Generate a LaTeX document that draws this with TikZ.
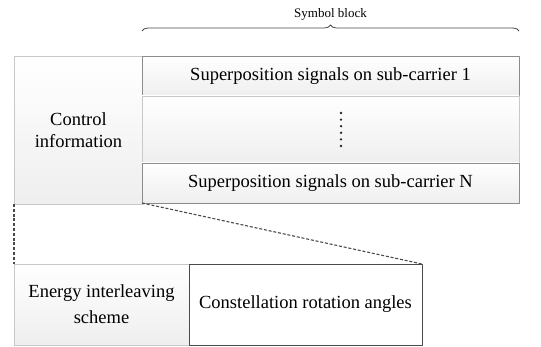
\documentclass[tikz,border=0pt]{standalone}
\usepackage{fontspec}
\setmainfont{Liberation Serif}
\usetikzlibrary{positioning,decorations.pathreplacing}
\definecolor{lightedge}{HTML}{C8C8C8}
\definecolor{midedge}{HTML}{8C8C8C}
\definecolor{darkedge}{HTML}{4A4A4A}
\tikzset{
  cell/.style={draw=lightedge, top color=white, bottom color=gray!13, inner sep=0pt, outer sep=0pt, align=center},
  rowbox/.style={cell, draw=midedge, minimum width=377pt, minimum height=40pt},
  zoomline/.style={darkedge, dash pattern=on 3pt off 1.8pt, line width=1.1pt}
}
\begin{document}
\begin{tikzpicture}[x=1pt, y=1pt, font=\fontsize{18.5}{22}\selectfont, line join=round]
  \useasboundingbox (0,0) rectangle (541,-347);
  % upper frame
  \node[cell, minimum width=129pt, minimum height=148pt] (ctrl) at (78.5,-130) {Control\\information};
  \node[rowbox, anchor=north west] (sub1) at ([xshift=-1pt]ctrl.north east) {Superposition signals on sub-carrier 1};
  \node[cell, minimum width=377pt, minimum height=67pt, below=0pt of sub1] (mid) {};
  \node[rowbox, below=0pt of mid] (subN) {Superposition signals on sub-carrier N};
  \foreach \k in {-2.5,-1.5,...,2.5}
    \fill[black!85] ([xshift=10.5pt, yshift=-6.6*\k pt]mid.center) circle (1.3pt);
  \draw[darkedge, line width=0.8pt, decorate, decoration={brace, amplitude=6pt}]
    ([yshift=25pt]sub1.north west) -- ([yshift=25pt]sub1.north east)
    node[midway, above=7pt, black, font=\fontsize{13}{15}\selectfont] (symb) {Symbol block};
  % lower frame
  \node[cell, anchor=north west, minimum width=175pt, minimum height=81pt, font=\fontsize{18.5}{26}\selectfont] (energy) at ([yshift=-60pt]ctrl.south west) {Energy interleaving\\scheme};
  \node[cell, draw=darkedge, top color=white, bottom color=white, minimum width=233pt, minimum height=81pt, right=0pt of energy] (const) {Constellation rotation angles};
  \draw[zoomline] (ctrl.south west) -- (energy.north west);
  \draw[zoomline] (subN.south west) -- (const.north east);
\end{tikzpicture}
\end{document}
